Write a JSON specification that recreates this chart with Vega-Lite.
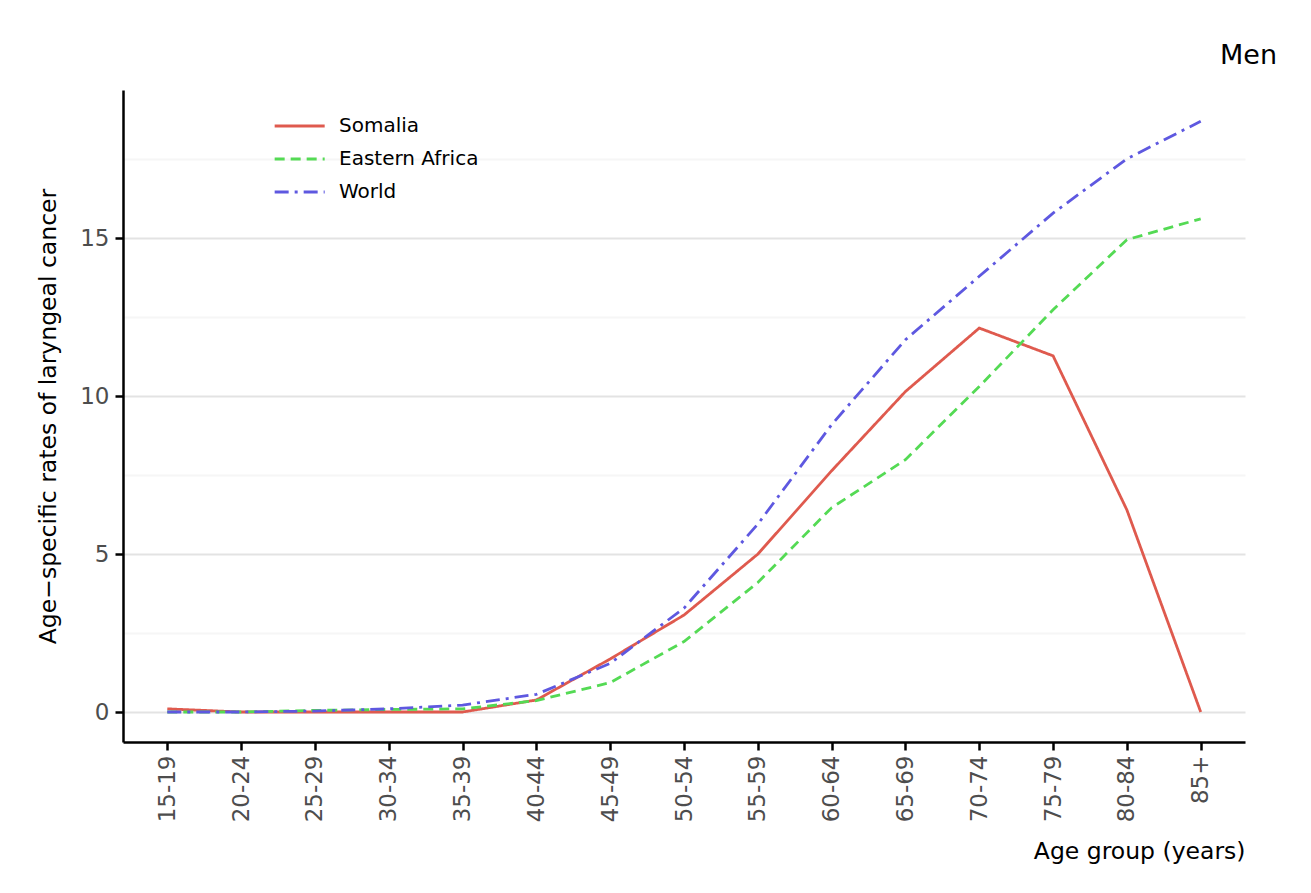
{
  "$schema": "https://vega.github.io/schema/vega-lite/v6.json",
  "width": 1122,
  "height": 652,
  "autosize": {"type": "none"},
  "padding": {"left": 123, "top": 90, "right": 66, "bottom": 151},
  "background": "white",
  "title": {"text": "Men", "anchor": "end", "dx": 32, "dy": 27, "offset": 26, "baseline": "alphabetic", "fontSize": 27, "font": "DejaVu Sans", "fontWeight": "normal", "color": "black"},
  "data": {"values": [
    {"age": "15-19", "series": "Somalia", "rate": 0.1},
    {"age": "20-24", "series": "Somalia", "rate": 0},
    {"age": "25-29", "series": "Somalia", "rate": 0},
    {"age": "30-34", "series": "Somalia", "rate": 0},
    {"age": "35-39", "series": "Somalia", "rate": 0},
    {"age": "40-44", "series": "Somalia", "rate": 0.38},
    {"age": "45-49", "series": "Somalia", "rate": 1.68},
    {"age": "50-54", "series": "Somalia", "rate": 3.07},
    {"age": "55-59", "series": "Somalia", "rate": 5.0},
    {"age": "60-64", "series": "Somalia", "rate": 7.64},
    {"age": "65-69", "series": "Somalia", "rate": 10.15},
    {"age": "70-74", "series": "Somalia", "rate": 12.16},
    {"age": "75-79", "series": "Somalia", "rate": 11.28},
    {"age": "80-84", "series": "Somalia", "rate": 6.4},
    {"age": "85+", "series": "Somalia", "rate": 0},
    {"age": "15-19", "series": "Eastern Africa", "rate": 0},
    {"age": "20-24", "series": "Eastern Africa", "rate": 0},
    {"age": "25-29", "series": "Eastern Africa", "rate": 0.05},
    {"age": "30-34", "series": "Eastern Africa", "rate": 0.08},
    {"age": "35-39", "series": "Eastern Africa", "rate": 0.1},
    {"age": "40-44", "series": "Eastern Africa", "rate": 0.36},
    {"age": "45-49", "series": "Eastern Africa", "rate": 0.93},
    {"age": "50-54", "series": "Eastern Africa", "rate": 2.23},
    {"age": "55-59", "series": "Eastern Africa", "rate": 4.1},
    {"age": "60-64", "series": "Eastern Africa", "rate": 6.47},
    {"age": "65-69", "series": "Eastern Africa", "rate": 7.99},
    {"age": "70-74", "series": "Eastern Africa", "rate": 10.31},
    {"age": "75-79", "series": "Eastern Africa", "rate": 12.74},
    {"age": "80-84", "series": "Eastern Africa", "rate": 14.96},
    {"age": "85+", "series": "Eastern Africa", "rate": 15.62},
    {"age": "15-19", "series": "World", "rate": 0},
    {"age": "20-24", "series": "World", "rate": 0},
    {"age": "25-29", "series": "World", "rate": 0.03},
    {"age": "30-34", "series": "World", "rate": 0.1},
    {"age": "35-39", "series": "World", "rate": 0.22},
    {"age": "40-44", "series": "World", "rate": 0.56},
    {"age": "45-49", "series": "World", "rate": 1.54},
    {"age": "50-54", "series": "World", "rate": 3.29},
    {"age": "55-59", "series": "World", "rate": 5.95},
    {"age": "60-64", "series": "World", "rate": 9.1},
    {"age": "65-69", "series": "World", "rate": 11.79},
    {"age": "70-74", "series": "World", "rate": 13.8},
    {"age": "75-79", "series": "World", "rate": 15.8},
    {"age": "80-84", "series": "World", "rate": 17.52},
    {"age": "85+", "series": "World", "rate": 18.71}
  ]},
  "mark": {"type": "line", "strokeWidth": 2.8, "clip": false},
  "encoding": {
    "x": {
      "field": "age", "type": "ordinal",
      "sort": ["15-19","20-24","25-29","30-34","35-39","40-44","45-49","50-54","55-59","60-64","65-69","70-74","75-79","80-84","85+"],
      "scale": {"type": "point", "padding": 0.6},
      "axis": {
        "title": "Age group (years)",
        "titleFontSize": 23.5, "titleFontWeight": "normal", "titleColor": "black",
        "titleAnchor": "end", "titleAlign": "right", "titleX": 1122, "titleY": 109, "titleBaseline": "middle",
        "labelAngle": -90, "labelFontSize": 23, "labelColor": "#4d4d4d", "labelPadding": 5,
        "domainColor": "black", "domainWidth": 2.5,
        "tickColor": "black", "tickWidth": 2.5, "tickSize": 8,
        "grid": false
      }
    },
    "y": {
      "field": "rate", "type": "quantitative",
      "scale": {"domain": [-0.95, 19.7], "nice": false, "zero": false},
      "axis": {
        "title": "Age\u2212specific rates of laryngeal cancer",
        "titleFontSize": 23.5, "titleFontWeight": "normal", "titleColor": "black",
        "titleX": -68, "titleBaseline": "alphabetic",
        "values": [0, 2.5, 5, 7.5, 10, 12.5, 15, 17.5],
        "labelExpr": "datum.value % 5 === 0 ? datum.label : ''",
        "labelFontSize": 23, "labelColor": "#4d4d4d", "labelPadding": 6,
        "domainColor": "black", "domainWidth": 2.5,
        "tickColor": "black", "tickWidth": 2.5, "tickSize": 8,
        "tickOpacity": {"condition": {"test": "datum.value % 5 === 0", "value": 1}, "value": 0},
        "grid": true,
        "gridColor": {"condition": {"test": "datum.value % 5 === 0", "value": "#e3e3e3"}, "value": "#f6f6f6"},
        "gridWidth": 2
      }
    },
    "color": {
      "field": "series", "type": "nominal",
      "scale": {"domain": ["Somalia", "Eastern Africa", "World"], "range": ["#DF5A4E", "#54DA54", "#5E58E0"]},
      "legend": {"title": null}
    },
    "strokeDash": {
      "field": "series", "type": "nominal",
      "scale": {"domain": ["Somalia", "Eastern Africa", "World"], "range": [[1, 0], [10, 6], [14, 6, 3, 6]]},
      "legend": {"title": null}
    }
  },
  "config": {
    "font": "DejaVu Sans",
    "view": {"stroke": null},
    "legend": {
      "orient": "none", "legendX": 150, "legendY": 26,
      "symbolType": "M-1,0H5", "symbolSize": 278, "symbolStrokeWidth": 2.8,
      "labelFontSize": 20, "labelColor": "black", "labelOffset": 46,
      "rowPadding": 13, "padding": 0
    }
  }
}
